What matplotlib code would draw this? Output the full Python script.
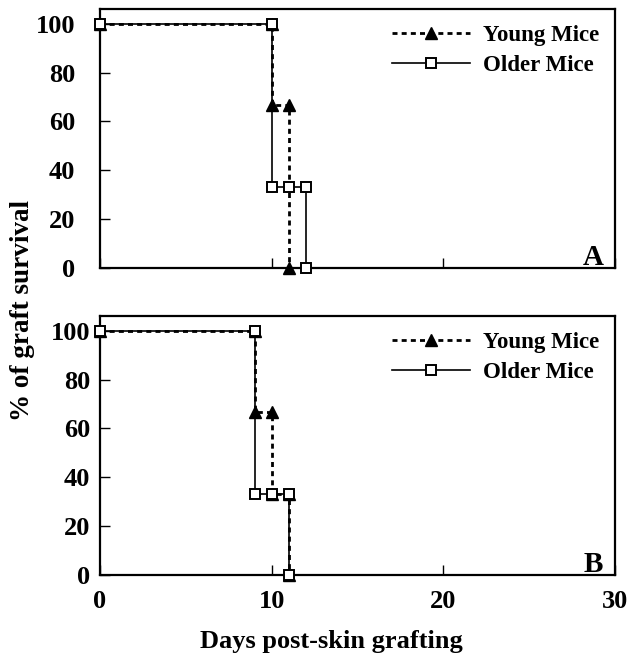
import matplotlib
matplotlib.use('Agg')
import matplotlib.pyplot as plt

# survival curves, vertices of each step curve (days, % survival)
young_a_days = [0, 10, 10, 11, 11]
young_a_pct = [100, 100, 66.7, 66.7, 0]
older_a_days = [0, 10, 10, 11, 12, 12]
older_a_pct = [100, 100, 33.3, 33.3, 33.3, 0]

young_b_days = [0, 9, 9, 10, 10, 11, 11]
young_b_pct = [100, 100, 66.7, 66.7, 33.3, 33.3, 0]
older_b_days = [0, 9, 9, 10, 11, 11]
older_b_pct = [100, 100, 33.3, 33.3, 33.3, 0]

x_ticks = [0, 10, 20, 30]
y_ticks = [0, 20, 40, 60, 80, 100]
panel_labels = ['A', 'B']

plt.rcParams['font.family'] = ['Liberation Serif', 'DejaVu Serif']
plt.rcParams['font.weight'] = 'bold'

fig = plt.figure(figsize=(6.29, 6.53), dpi=100)
ax_a = fig.add_axes([0.159, 0.5896, 0.819, 0.3966])
ax_b = fig.add_axes([0.159, 0.1194, 0.819, 0.3966])

panels = [
    (ax_a, young_a_days, young_a_pct, older_a_days, older_a_pct),
    (ax_b, young_b_days, young_b_pct, older_b_days, older_b_pct),
]

for i, (ax, yd, yp, od, op) in enumerate(panels):
    ax.plot(yd, yp, color='black', lw=2, linestyle=(0, (1.8, 1.5)),
            marker='^', markersize=9, markerfacecolor='black',
            markeredgecolor='black', clip_on=False, label='Young Mice', zorder=3)
    ax.plot(od, op, color='black', lw=1.2, linestyle='-',
            marker='s', markersize=7.5, markerfacecolor='white',
            markeredgecolor='black', markeredgewidth=1.4,
            clip_on=False, label='Older Mice', zorder=4)

    ax.set_xlim(0, 30)
    ax.set_ylim(0, 106)
    ax.set_xticks(x_ticks)
    ax.set_yticks(y_ticks)
    ax.tick_params(direction='in', length=7.5, width=1, labelsize=19)
    for s in ax.spines.values():
        s.set_linewidth(1.6)
    if i == 0:
        ax.set_xticklabels([])
        ax.tick_params(axis='y', pad=18)
    else:
        ax.tick_params(axis='y', pad=7)
        ax.tick_params(axis='x', pad=11)

    ax.text(0.977, 0.012, panel_labels[i], transform=ax.transAxes,
            ha='right', va='baseline', fontsize=21, fontweight='bold')

    leg = ax.legend(loc='upper right', frameon=False, fontsize=16.5,
                    handlelength=3.4, handletextpad=0.55, labelspacing=0.4,
                    borderaxespad=0.3, borderpad=0.4)
    for t in leg.get_texts():
        t.set_fontweight('bold')

fig.text(0.035, 0.524, '% of graft survival', rotation=90, ha='center',
         va='center', fontsize=19.5, fontweight='bold')
fig.text(0.527, 0.008, 'Days post-skin grafting', ha='center', va='baseline',
         fontsize=19, fontweight='bold')

fig.savefig('out.png', dpi=100)
